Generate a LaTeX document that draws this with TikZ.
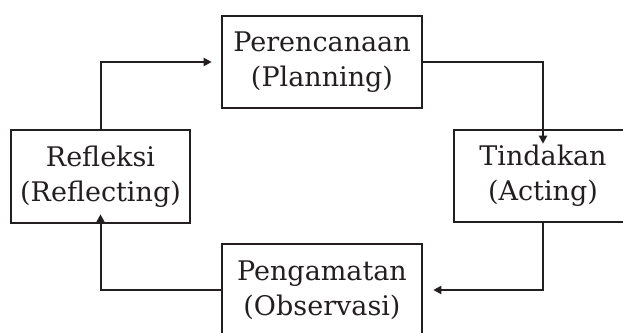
\documentclass[tikz,border=0pt]{standalone}
\usepackage{fontspec}
\setmainfont{DejaVu Serif}
\usetikzlibrary{arrows.meta}
\definecolor{ink}{HTML}{231F20}
\begin{document}
\begin{tikzpicture}[x=1pt,y=-1pt,
  box/.style={draw=ink, line width=2.6pt, align=center, text=ink,
    font=\fontsize{27}{35}\selectfont, inner sep=0pt},
  conn/.style={draw=ink, line width=2pt, -{Triangle[length=8pt,width=8pt]}}]
\useasboundingbox (0,0) rectangle (623,332);
\node[box, minimum width=200pt, minimum height=92pt] (plan) at (322,62) {Perencanaan\\(Planning)};
\node[box, minimum width=179pt, minimum height=93pt] (refl) at (100.5,176.5) {Refleksi\\(Reflecting)};
\node[box, minimum width=178pt, minimum height=92pt] (tind) at (543,176) {Tindakan\\(Acting)};
\node[box, minimum width=200pt, minimum height=92pt] (peng) at (322,290) {Pengamatan\\(Observasi)};
\coordinate (a1) at ([xshift=-9pt]plan.west);
\coordinate (a2) at ([yshift=-15pt]tind.north);
\coordinate (a3) at ([xshift=10pt]peng.east);
\coordinate (a4) at ([yshift=10pt]refl.south);
\draw[conn] (refl.north) |- (a1);
\draw[conn] (plan.east) -| (a2);
\draw[conn] (tind.south) |- (a3);
\draw[conn] (peng.west) -| (a4);
\end{tikzpicture}
\end{document}
